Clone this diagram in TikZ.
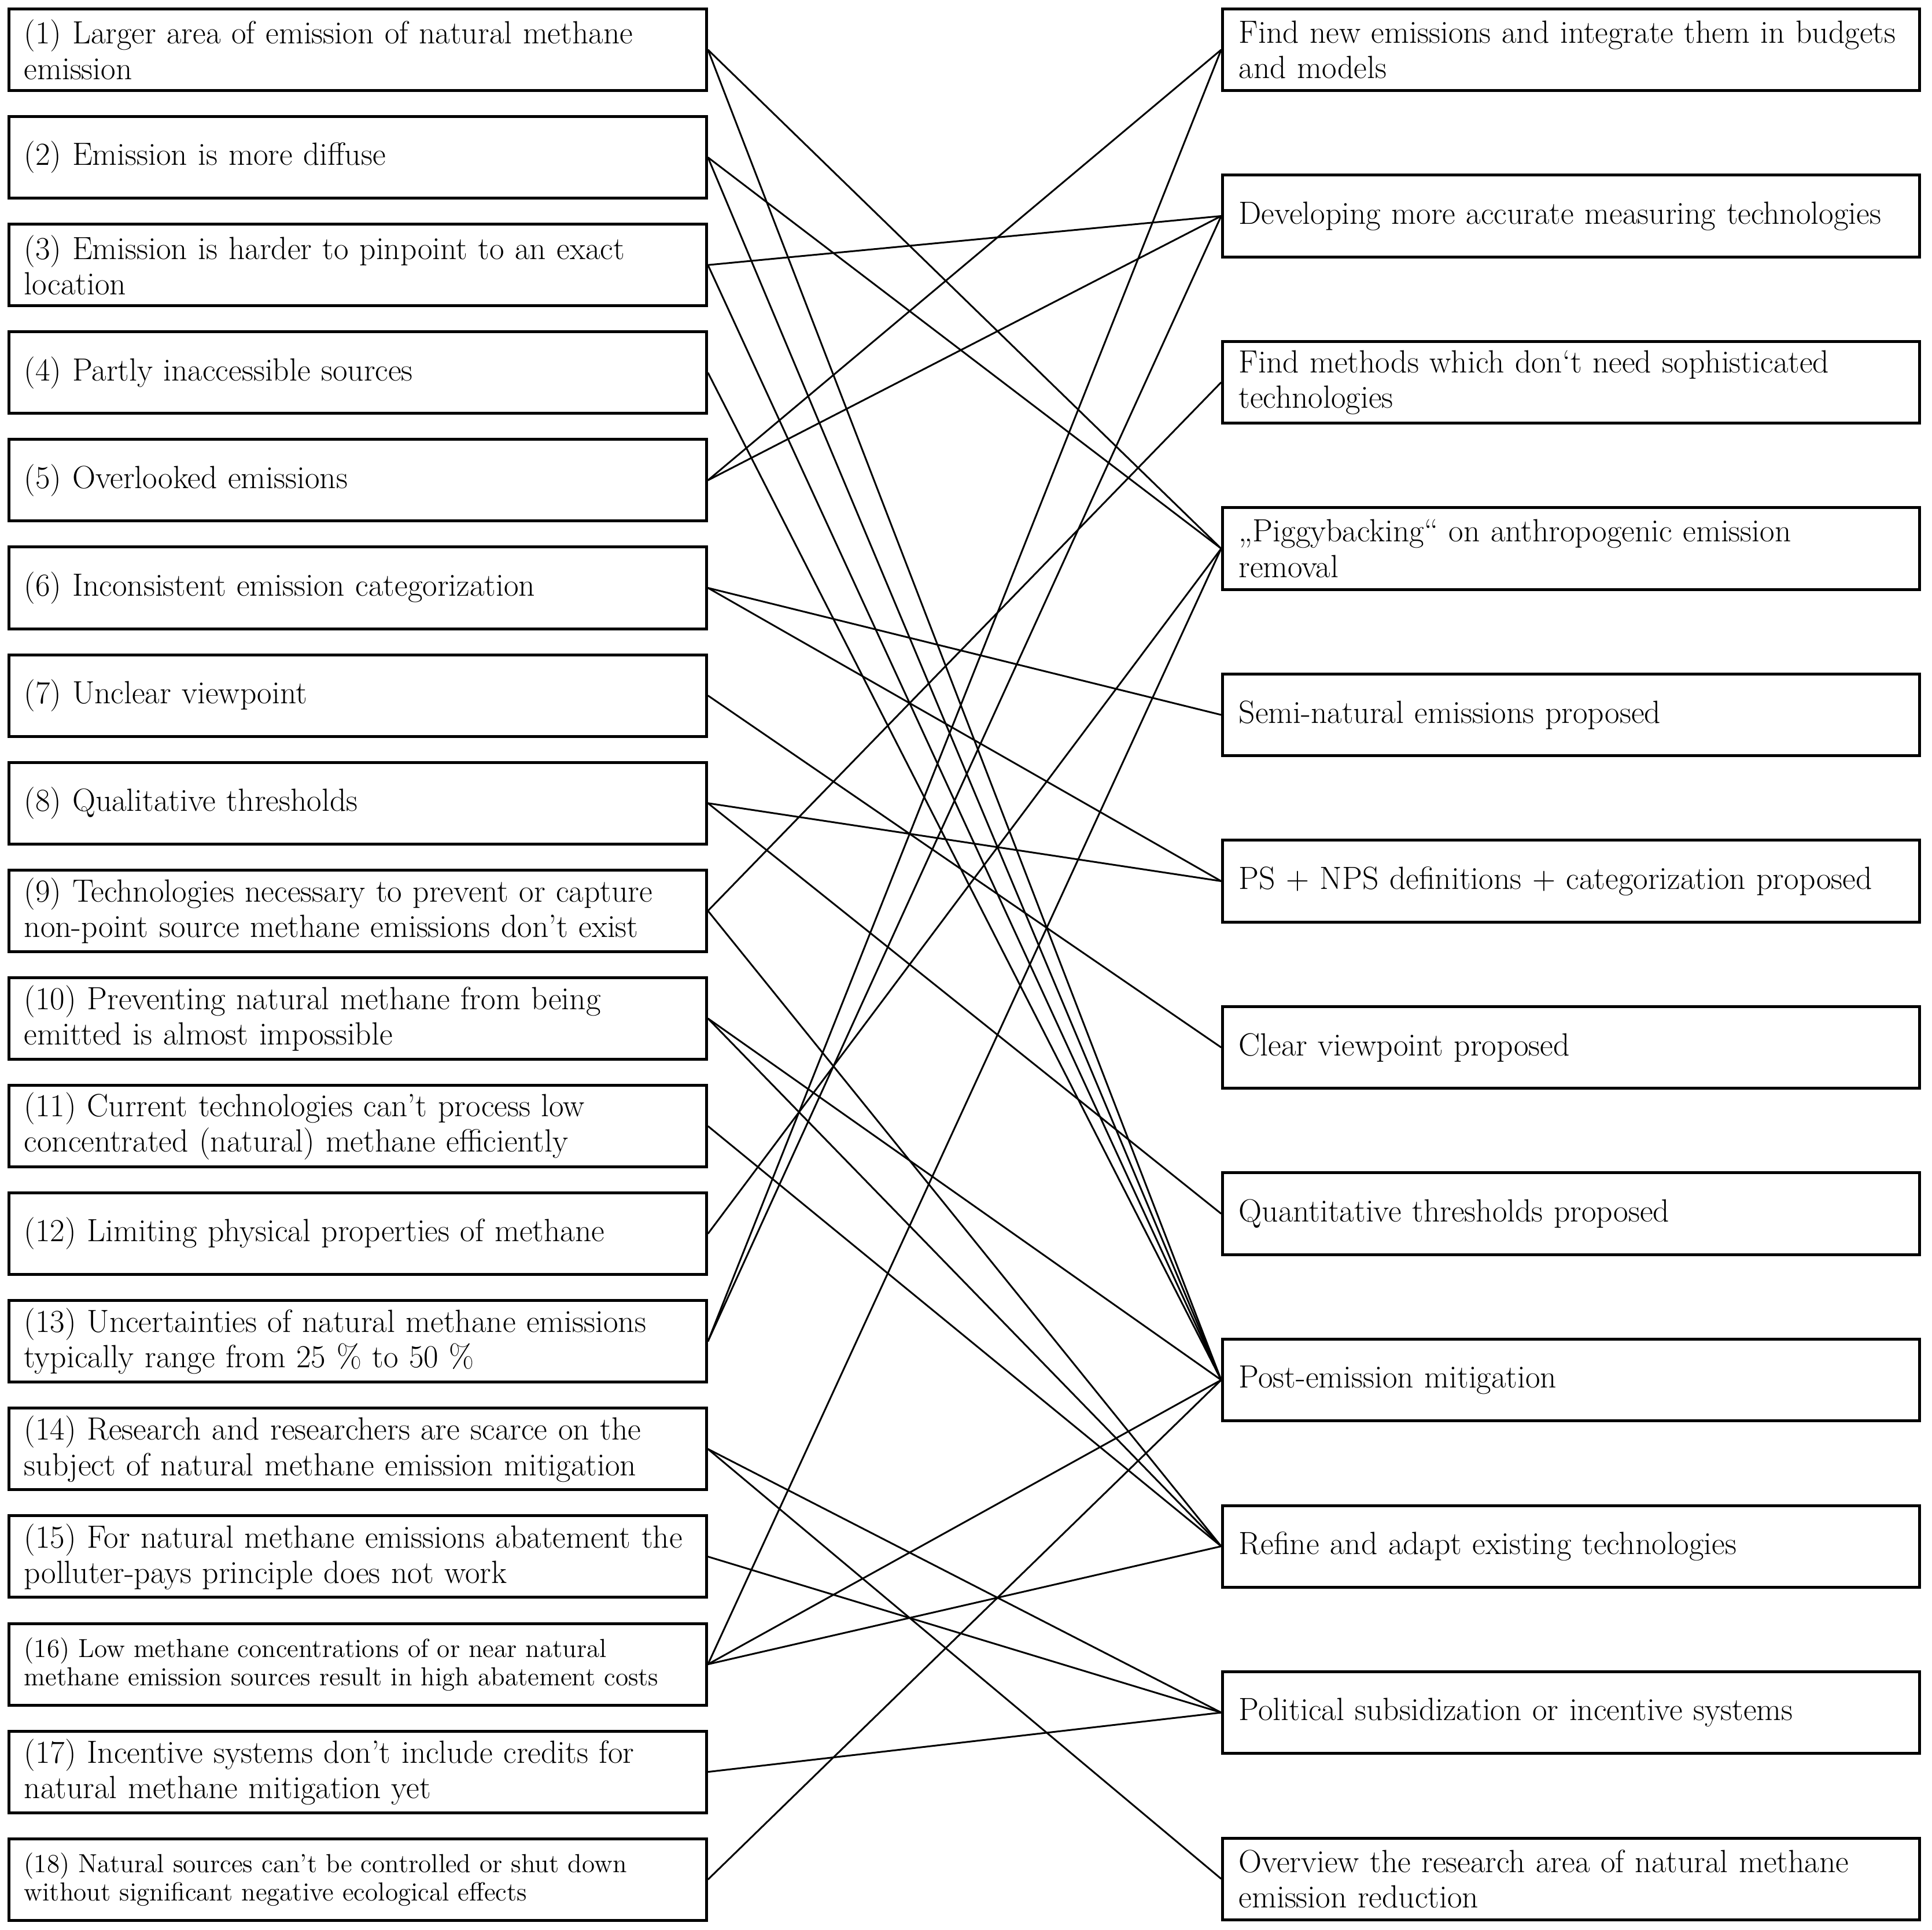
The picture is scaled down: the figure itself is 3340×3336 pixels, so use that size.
\documentclass[tikz,border=0pt]{standalone}
\usepackage{fontspec}
\newcommand\mainfs{\fontsize{15.8pt}{17.4pt}\selectfont}
\newcommand\smallfs{\fontsize{12.85pt}{14.1pt}\selectfont}
\tikzset{
  lbox/.style={draw, line width=0.05cm, minimum height=1.41cm, text width=11.53cm,
    inner xsep=0.26cm, inner ysep=0pt, align=left, font=\mainfs},
  rbox/.style={draw, line width=0.05cm, minimum height=1.41cm, text width=11.48cm,
    inner xsep=0.28cm, inner ysep=0pt, align=left, font=\mainfs},
  link/.style={line width=0.03cm},
}
\begin{document}
\begin{tikzpicture}[x=0.01cm, y=-0.01cm]
\useasboundingbox (0,0) rectangle (3340,3336);
% left column
\node[lbox] (L1)  at (618.5,86)    {(1) Larger area of emission of natural methane\\emission};
\node[lbox] (L2)  at (618.5,272.1) {(2) Emission is more diffuse};
\node[lbox] (L3)  at (618.5,458.2) {(3) Emission is harder to pinpoint to an exact\\location};
\node[lbox] (L4)  at (618.5,644.3) {(4) Partly inaccessible sources};
\node[lbox] (L5)  at (618.5,830.4) {(5) Overlooked emissions};
\node[lbox] (L6)  at (618.5,1016.5) {(6) Inconsistent emission categorization};
\node[lbox] (L7)  at (618.5,1202.6) {(7) Unclear viewpoint};
\node[lbox] (L8)  at (618.5,1388.7) {(8) Qualitative thresholds};
\node[lbox] (L9)  at (618.5,1574.8) {(9) Technologies necessary to prevent or capture\\non-point source methane emissions don’t exist};
\node[lbox] (L10) at (618.5,1760.9) {(10) Preventing natural methane from being\\emitted is almost impossible};
\node[lbox] (L11) at (618.5,1947.0) {(11) Current technologies can’t process low\\concentrated (natural) methane efficiently};
\node[lbox] (L12) at (618.5,2133.1) {(12) Limiting physical properties of methane};
\node[lbox] (L13) at (618.5,2319.2) {(13) Uncertainties of natural methane emissions\\typically range from 25~\% to 50~\%};
\node[lbox] (L14) at (618.5,2505.3) {(14) Research and researchers are scarce on the\\subject of natural methane emission mitigation};
\node[lbox] (L15) at (618.5,2691.4) {(15) For natural methane emissions abatement the\\polluter-pays principle does not work};
\node[lbox, font=\smallfs] (L16) at (618.5,2877.5) {(16) Low methane concentrations of or near natural\\methane emission sources result in high abatement costs};
\node[lbox] (L17) at (618.5,3063.6) {(17) Incentive systems don’t include credits for\\natural methane mitigation yet};
\node[lbox, font=\smallfs] (L18) at (618.5,3249.7) {(18) Natural sources can’t be controlled or shut down\\without significant negative ecological effects};
% right column
\node[rbox] (R1)  at (2716,86)     {Find new emissions and integrate them in budgets\\and models};
\node[rbox] (R2)  at (2716,373.5)  {Developing more accurate measuring technologies};
\node[rbox] (R3)  at (2716,661)    {Find methods which don‘t need sophisticated\\technologies};
\node[rbox] (R4)  at (2716,948.5)  {„Piggybacking“ on anthropogenic emission\\removal};
\node[rbox] (R5)  at (2716,1236)   {Semi-natural emissions proposed};
\node[rbox] (R6)  at (2716,1523.5) {PS + NPS definitions + categorization proposed};
\node[rbox] (R7)  at (2716,1811)   {Clear viewpoint proposed};
\node[rbox] (R8)  at (2716,2098.5) {Quantitative thresholds proposed};
\node[rbox] (R9)  at (2716,2386)   {Post-emission mitigation};
\node[rbox] (R10) at (2716,2673.5) {Refine and adapt existing technologies};
\node[rbox] (R11) at (2716,2961)   {Political subsidization or incentive systems};
\node[rbox] (R12) at (2716,3248.5) {Overview the research area of natural methane\\emission reduction};
% connectors
\draw[link] (L1.east) -- (R4.west);
\draw[link] (L1.east) -- (R9.west);
\draw[link] (L2.east) -- (R4.west);
\draw[link] (L2.east) -- (R9.west);
\draw[link] (L3.east) -- (R2.west);
\draw[link] (L3.east) -- (R9.west);
\draw[link] (L4.east) -- (R9.west);
\draw[link] (L5.east) -- (R1.west);
\draw[link] (L5.east) -- (R2.west);
\draw[link] (L6.east) -- (R5.west);
\draw[link] (L6.east) -- (R6.west);
\draw[link] (L7.east) -- (R7.west);
\draw[link] (L8.east) -- (R6.west);
\draw[link] (L8.east) -- (R8.west);
\draw[link] (L9.east) -- (R3.west);
\draw[link] (L9.east) -- (R10.west);
\draw[link] (L10.east) -- (R9.west);
\draw[link] (L10.east) -- (R10.west);
\draw[link] (L11.east) -- (R10.west);
\draw[link] (L12.east) -- (R4.west);
\draw[link] (L13.east) -- (R1.west);
\draw[link] (L13.east) -- (R2.west);
\draw[link] (L14.east) -- (R11.west);
\draw[link] (L14.east) -- (R12.west);
\draw[link] (L15.east) -- (R11.west);
\draw[link] (L16.east) -- (R4.west);
\draw[link] (L16.east) -- (R9.west);
\draw[link] (L16.east) -- (R10.west);
\draw[link] (L17.east) -- (R11.west);
\draw[link] (L18.east) -- (R9.west);
\end{tikzpicture}
\end{document}
